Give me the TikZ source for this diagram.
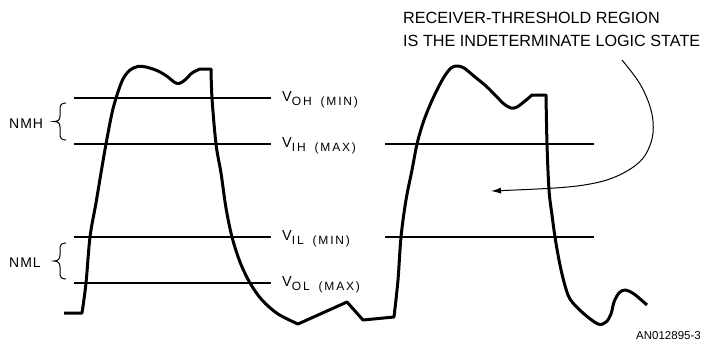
\documentclass[tikz,border=0pt]{standalone}
\usepackage{fontspec}
\setmainfont{Liberation Sans}
\newfontfamily\cadB[LetterSpace=15]{Liberation Sans}
\newfontfamily\cadC[LetterSpace=7]{Liberation Sans}
\usetikzlibrary{arrows.meta}
\newcommand{\vlab}[2]{{\fontsize{14.5}{14}\selectfont\raisebox{4pt}{V}}{\cadB\fontsize{12}{12}\selectfont #1\hspace{9pt}(#2)}}
\tikzset{
  wave/.style={line width=3pt, line join=round},
  level/.style={line width=1.1pt},
  brc/.style={line width=1pt},
  lab/.style={inner sep=0pt, anchor=base west},
  note/.style={inner sep=0pt, anchor=base west, font=\fontsize{16.2}{16}\selectfont},
  nm/.style={inner sep=0pt, anchor=base west, font=\cadC\fontsize{14}{14}\selectfont},
  pointer/.style={line width=1pt, -{Latex[length=10pt,width=6pt]}}
}
\begin{document}
\begin{tikzpicture}[x=1pt,y=-1pt]
\useasboundingbox (0,0) rectangle (702,343);
% level lines
\draw[level] (74,98) -- (271,98);
\draw[level] (74,144) -- (271,144);
\draw[level] (74,237) -- (271,237);
\draw[level] (74,283) -- (271,283);
\draw[level] (385,144) -- (594,144);
\draw[level] (385,237) -- (594,237);
% labels
\node[lab] (loh) at (282,105) {\vlab{OH}{MIN}};
\node[lab] (lih) at (282,151) {\vlab{IH}{MAX}};
\node[lab] (lil) at (282,244) {\vlab{IL}{MIN}};
\node[lab] (lol) at (282,290) {\vlab{OL}{MAX}};
\node[nm] (nmh) at (9,128.5) {NMH};
\node[nm] (nml) at (9,267.5) {NML};
% braces
\begin{scope}[shift={(0,103)}]
\draw[brc] (66,0) .. controls (61,0) and (60,2) .. (60,7) -- (60,13) .. controls (60,17) and (58,18.5) .. (54,18.5) .. controls (58,18.5) and (60,20) .. (60,24) -- (60,30) .. controls (60,35) and (61,37) .. (66,37);
\end{scope}
\begin{scope}[shift={(0,243)}]
\draw[brc] (66,0) .. controls (61,0) and (60,2) .. (60,7) -- (60,12) .. controls (60,16) and (58,18) .. (54,18) .. controls (58,18) and (60,20) .. (60,24) -- (60,29) .. controls (60,34) and (61,36) .. (66,36);
\end{scope}
% waveform
\draw[wave] (64,313) -- (82,313)
  -- plot[smooth, tension=0.55] coordinates {(82,313) (86,283) (90,237) (96,203) (101,173) (106,144) (112,113) (117,95) (123,79) (130,70) (138,66.5) (146,67) (158,71) (168,77) (174,82) (179,83.5) (185,80) (192,73) (200,69)}
  -- (211,69)
  -- plot[smooth, tension=0.55] coordinates {(211,69) (212,98) (216,144) (221,173) (226,208) (232,237) (240,262) (250,283) (262,300) (278,314) (298,324)}
  -- (347,302) -- (363,320) -- (394,317)
  -- plot[smooth, tension=0.55] coordinates {(394,317) (398,280) (401,237) (406,200) (412,170) (417,144) (423,123) (430,105) (437,90) (444,77) (451,68) (457,66) (464,68) (475,77) (486,86) (496,96) (504,104) (511,108) (517,107) (525,101) (532,95)}
  -- (546,95)
  -- plot[smooth, tension=0.55] coordinates {(546,95) (547,144) (549,190) (552,215) (555,237) (559,260) (564,282) (570,299) (583,313) (598,324) (606,322) (611,314) (614,302) (619,293) (625,290) (634,294) (647,305)};
% note
\node[note] (n1) at (403,23) {RECEIVER-THRESHOLD REGION};
\node[note] (n2) at (403,46) {IS THE INDETERMINATE LOGIC STATE};
\coordinate (ps) at (622,60);
\coordinate (pe) at (491,191);
\draw[pointer] plot[smooth, tension=0.6] coordinates {(ps) (640,84) (651,110) (653,133) (647,152) (636,165) (615,177) (590,184) (555,188) (pe)};
% figure id
\node[inner sep=0pt, anchor=base east, font=\fontsize{11.5}{12}\selectfont] (fid) at (701,339) {AN012895-3};
\end{tikzpicture}
\end{document}
